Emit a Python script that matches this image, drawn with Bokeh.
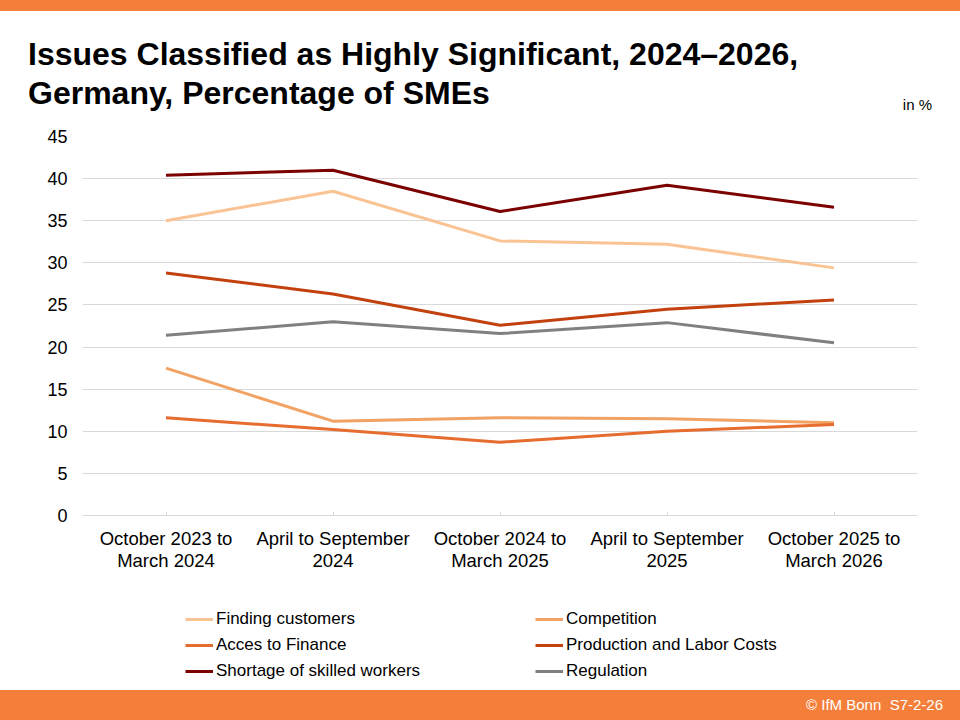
from bokeh.plotting import figure
from bokeh.models import FactorRange, Range1d, Legend, LegendItem, Div
from bokeh.layouts import column
from bokeh.embed import file_html
from bokeh.resources import INLINE

# ---- data ----
periods = ["October 2023 to\nMarch 2024", "April to September\n2024",
           "October 2024 to\nMarch 2025", "April to September\n2025",
           "October 2025 to\nMarch 2026"]
finding_customers = [35.0, 38.5, 32.6, 32.2, 29.4]
competition = [17.5, 11.2, 11.6, 11.5, 11.0]
access_finance = [11.6, 10.2, 8.7, 10.0, 10.8]
production_costs = [28.8, 26.3, 22.6, 24.5, 25.6]
skilled_workers = [40.4, 41.0, 36.1, 39.2, 36.6]
regulation = [21.4, 23.0, 21.6, 22.9, 20.5]
y_ticks = [0, 5, 10, 15, 20, 25, 30, 35, 40, 45]

series_names = ["Finding customers", "Competition", "Acces to Finance",
                "Production and Labor Costs", "Shortage of skilled workers",
                "Regulation"]
series_colors = ["#FAC393", "#F2A263", "#E66C30", "#C2410E", "#7B0000", "#808080"]
series_values = [finding_customers, competition, access_finance,
                 production_costs, skilled_workers, regulation]
legend_col1 = ["Finding customers", "Acces to Finance", "Shortage of skilled workers"]
legend_col2 = ["Competition", "Production and Labor Costs", "Regulation"]

title_lines = ["Issues Classified as Highly Significant, 2024\u20132026,",
               "Germany, Percentage of SMEs"]
unit_text = "in %"
footer_text = "\u00a9 IfM Bonn&nbsp; S7-2-26"

FONT = "Liberation Sans"
ORANGE = "#F47F3A"
W = 960
H_HEAD, H_MAIN, H_LEG, H_FOOT = 128, 462, 100, 30
BL, BR = 82, 43

# ---- header (orange bar + title) ----
head_html = (
    f'<div style="position:relative;width:{W}px;height:{H_HEAD}px;'
    f"font-family:'{FONT}',Arial,sans-serif;color:#000;background:#fff;\">"
    f'<div style="position:absolute;left:0;top:0;width:{W}px;height:11px;'
    f'background:{ORANGE};"></div>'
    f'<div style="position:absolute;left:28px;top:35px;font-size:32px;'
    f'font-weight:bold;line-height:39px;white-space:nowrap;">'
    f'{title_lines[0]}<br>{title_lines[1]}</div>'
    f'<div style="position:absolute;right:28px;top:96px;font-size:15px;'
    f'line-height:18px;white-space:nowrap;">{unit_text}</div>'
    f'</div>'
)
head = Div(text=head_html, width=W, height=H_HEAD, margin=0)

# ---- main chart ----
p = figure(width=W, height=H_MAIN, x_range=FactorRange(*periods, range_padding=0),
           y_range=Range1d(0, 45), output_backend="svg", toolbar_location=None,
           min_border_left=BL, min_border_right=BR, min_border_top=8,
           min_border_bottom=75)
p.outline_line_color = None
p.xgrid.grid_line_color = None
p.ygrid.grid_line_color = "#D9D9D9"
p.ygrid.grid_line_width = 1
p.yaxis.ticker = y_ticks
p.yaxis.axis_line_color = None
p.yaxis.major_tick_line_color = None
p.yaxis.minor_tick_line_color = None
p.yaxis.major_tick_out = 0
p.yaxis.major_tick_in = 0
p.yaxis.major_label_standoff = 15
p.yaxis.major_label_text_font = FONT
p.yaxis.major_label_text_font_size = "18px"
p.yaxis.major_label_text_color = "#000000"

p.xaxis.axis_line_color = "#D9D9D9"
p.xaxis.major_tick_line_color = "#D9D9D9"
p.xaxis.major_tick_in = 4
p.xaxis.major_tick_out = 0
p.xaxis.major_label_standoff = 12
p.xaxis.major_label_text_font = FONT
p.xaxis.major_label_text_font_size = "18.5px"
p.xaxis.major_label_text_line_height = 1.05
p.xaxis.major_label_text_color = "#000000"

for name, vals, col in zip(series_names, series_values, series_colors):
    p.line(periods, vals, line_color=col, line_width=3, line_join="round")

# ---- legend strip ----
leg = figure(width=W, height=H_LEG, x_range=Range1d(0, 1), y_range=Range1d(0, 1),
             output_backend="svg", toolbar_location=None,
             x_axis_location=None, y_axis_location=None,
             min_border_left=BL, min_border_right=BR, min_border_top=0,
             min_border_bottom=0)
leg.outline_line_color = None
leg.xgrid.visible = False
leg.ygrid.visible = False
proxies = {}
for name, col in zip(series_names, series_colors):
    proxies[name] = leg.line(x=[2, 3], y=[2, 2], line_color=col, line_width=3)
for names, vx in ((legend_col1, 185 - BL), (legend_col2, 535 - BL)):
    lg = Legend(items=[LegendItem(label=n, renderers=[proxies[n]]) for n in names],
                location=(vx, 9), orientation="vertical")
    lg.border_line_color = None
    lg.background_fill_alpha = 0
    lg.padding = 0
    lg.margin = 0
    lg.spacing = 6
    lg.glyph_width = 28
    lg.glyph_height = 20
    lg.label_height = 20
    lg.label_standoff = 3
    lg.label_text_font = FONT
    lg.label_text_font_size = "17px"
    lg.label_text_color = "#000000"
    leg.add_layout(lg, "center")

# ---- footer bar ----
foot_html = (
    f'<div style="width:{W}px;height:{H_FOOT}px;background:{ORANGE};'
    f"font-family:'{FONT}',Arial,sans-serif;font-size:15px;color:#fff;"
    f'line-height:{H_FOOT}px;text-align:right;box-sizing:border-box;'
    f'padding-right:17px;white-space:nowrap;">{footer_text}</div>'
)
foot = Div(text=foot_html, width=W, height=H_FOOT, margin=0)

layout = column(head, p, leg, foot, spacing=0)
open("out.html", "w").write(file_html(layout, INLINE))
